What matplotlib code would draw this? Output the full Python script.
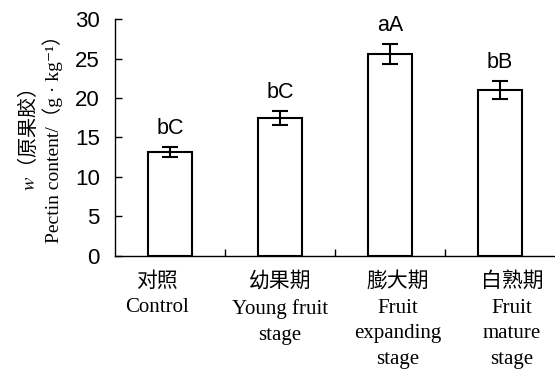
"""Pectin content by fruit stage: bar chart with SE bars and significance letters."""
import matplotlib
matplotlib.use("Agg")
import matplotlib.pyplot as plt
import matplotlib.transforms as mtransforms

plt.rcParams["font.family"] = ["Liberation Sans", "DejaVu Sans"]
plt.rcParams["mathtext.fontset"] = "stix"

stages_cn = ["对照", "幼果期", "膨大期", "白熟期"]
stages_en = ["Control", "Young fruit\nstage", "Fruit\nexpanding\nstage", "Fruit\nmature\nstage"]
pectin = [13.15, 17.45, 25.55, 21.0]
pectin_err = [0.6, 0.9, 1.25, 1.1]
letters = ["bC", "bC", "aA", "bB"]
yticks = [0, 5, 10, 15, 20, 25, 30]

SERIF_CJK = ["Liberation Serif", "Noto Sans CJK SC", "DejaVu Serif"]

fig = plt.figure(figsize=(5.55, 3.76), dpi=100)
ax = fig.add_axes([115 / 555, 1 - 255.5 / 376, 1 - 115 / 555, (255.5 - 19.3) / 376])

x = range(len(pectin))
ax.bar(x, pectin, width=0.4, color="white", edgecolor="black", linewidth=1.5, zorder=2)
ax.errorbar(x, pectin, yerr=pectin_err, fmt="none", ecolor="black",
            elinewidth=1.5, capsize=6, capthick=1.5, zorder=3)
for xi, v, e, lab in zip(x, pectin, pectin_err, letters):
    ax.annotate(lab, (xi, v + e), xytext=(0, 6), textcoords="offset points",
                ha="center", va="bottom", fontsize=15.5)

ax.set_xlim(-0.5, 3.5)
ax.set_ylim(0, 30)
ax.set_yticks(yticks)
ax.tick_params(axis="y", direction="in", length=5, width=1, labelsize=16, pad=11)
ax.set_xticks([0.5, 1.5, 2.5])
ax.tick_params(axis="x", direction="in", length=5, width=1, labelbottom=False)
for side in ("top", "right"):
    ax.spines[side].set_visible(False)
for side in ("left", "bottom"):
    ax.spines[side].set_linewidth(1)

# category labels, Chinese line over English
label_shift = [-0.12, 0.0, 0.07, 0.11]
trans = mtransforms.blended_transform_factory(ax.transData, ax.transAxes)
for i, (cn, en) in enumerate(zip(stages_cn, stages_en)):
    ax.text(i + label_shift[i], -0.07, cn + "\n" + en, transform=trans,
            ha="center", va="top", multialignment="center", fontsize=15,
            linespacing=1.48, family=SERIF_CJK)

fig.text(28 / 555, 1 - 140 / 376, r"$w$（原果胶）", rotation=90, ha="center", va="center",
         fontsize=14.5, family="Noto Sans CJK SC")
fig.text(53 / 555, 1 - 134 / 376, "Pectin content/（g · kg\u207b\u00b9）", rotation=90,
         ha="center", va="center", fontsize=14, family=SERIF_CJK)

fig.savefig("out.png", dpi=100)
